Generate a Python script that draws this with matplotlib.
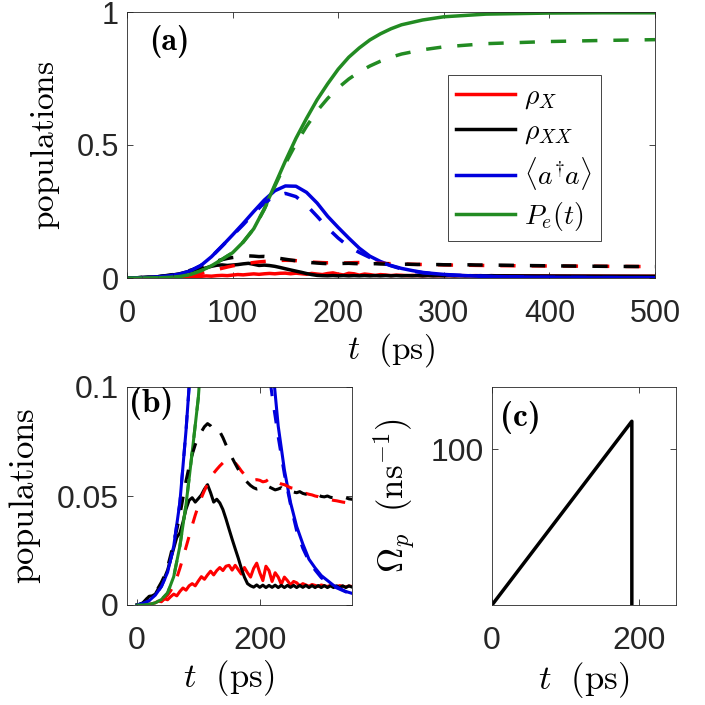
import os
import numpy as np
import matplotlib
matplotlib.use('Agg')
import matplotlib.pyplot as plt
from matplotlib.font_manager import FontProperties

plt.rcParams['mathtext.fontset'] = 'cm'
plt.rcParams['font.family'] = ['Liberation Sans', 'DejaVu Sans']
plt.rcParams['axes.unicode_minus'] = False

# ---------------- data ----------------
# fine time grid (ps) for the populations of the exciton / biexciton
t_fine = [0, 5, 10, 15, 20, 25, 30, 35, 40, 45, 50, 55, 60, 65, 70, 75, 80, 85, 90, 95,
          100, 105, 110, 115, 120, 125, 130, 135, 140, 145, 150, 155, 160, 165, 170, 175,
          180, 185, 190, 195, 200, 205, 210, 215, 220, 225, 230, 235, 240, 245, 250, 255,
          260, 265, 270, 275, 280, 285, 290, 295, 300, 305, 310, 315, 320, 325, 330, 335,
          340, 345, 350, 375, 400, 425, 450, 475, 500]

rhoX_solid = [0, 0, 0, 0, 0.0003, 0.0006, 0.001, 0.0018, 0.0015, 0.0028, 0.0024, 0.0038,
              0.005, 0.0042, 0.0062, 0.0078, 0.0068, 0.0088, 0.0098, 0.0088, 0.011, 0.013,
              0.0118, 0.0138, 0.0155, 0.0138, 0.0158, 0.0172, 0.0158, 0.0178, 0.0182, 0.016,
              0.0182, 0.0162, 0.0142, 0.0172, 0.0148, 0.0128, 0.0168, 0.0192, 0.0148, 0.0112,
              0.0178, 0.0158, 0.0108, 0.0148, 0.0128, 0.0095, 0.0128, 0.0112, 0.0092, 0.0108,
              0.0102, 0.0088, 0.0098, 0.0092, 0.0086, 0.0094, 0.009, 0.0085, 0.0092, 0.0088,
              0.0085, 0.009, 0.0087, 0.0084, 0.0089, 0.0086, 0.0083, 0.0087, 0.0085,
              0.008, 0.0075, 0.0072, 0.007, 0.0068, 0.0066]

rhoXX_solid = [0, 0.0003, 0.001, 0.0025, 0.004, 0.0042, 0.005, 0.0075, 0.0098, 0.0125, 0.016,
               0.021, 0.026, 0.031, 0.033, 0.038, 0.044, 0.048, 0.0492, 0.0472, 0.0488, 0.0505,
               0.0532, 0.0552, 0.0515, 0.0472, 0.0485, 0.0468, 0.0438, 0.0395, 0.0348, 0.0302,
               0.0258, 0.0215, 0.0168, 0.0128, 0.0098, 0.0088, 0.0082, 0.0092, 0.0081, 0.0091,
               0.008, 0.009, 0.0081, 0.0091, 0.008, 0.009, 0.008, 0.009, 0.0081, 0.009, 0.008,
               0.009, 0.0081, 0.009, 0.008, 0.0089, 0.008, 0.0089, 0.008, 0.0089, 0.008, 0.0088,
               0.008, 0.0088, 0.008, 0.0088, 0.008, 0.0088, 0.0082,
               0.0078, 0.0074, 0.0071, 0.0068, 0.0066, 0.0064]

rhoX_dashed = [0, 0, 0, 0, 0.0002, 0.0004, 0.0007, 0.0012, 0.002, 0.003, 0.0045, 0.0065, 0.009,
               0.0125, 0.0168, 0.0215, 0.0265, 0.0315, 0.0365, 0.0412, 0.0455, 0.0492, 0.0525,
               0.0555, 0.0582, 0.0605, 0.0622, 0.0638, 0.0652, 0.0662, 0.0665, 0.0662, 0.0652,
               0.0635, 0.0615, 0.0598, 0.0588, 0.0578, 0.0572, 0.0575, 0.0572, 0.0565, 0.0568,
               0.0578, 0.0582, 0.0575, 0.0562, 0.0555, 0.0552, 0.0545, 0.0538, 0.0535, 0.053,
               0.0522, 0.0518, 0.0512, 0.0508, 0.0505, 0.05, 0.0497, 0.0492, 0.0488, 0.0485,
               0.0483, 0.048, 0.0478, 0.0475, 0.0472, 0.047, 0.0468, 0.0466,
               0.0458, 0.0452, 0.0446, 0.044, 0.0434, 0.0428]

rhoXX_dashed = [0, 0.0003, 0.001, 0.0025, 0.004, 0.0045, 0.0055, 0.008, 0.0105, 0.0135, 0.0175,
                0.023, 0.029, 0.0345, 0.041, 0.049, 0.057, 0.0635, 0.069, 0.0735, 0.077, 0.0795,
                0.0818, 0.0832, 0.0822, 0.0805, 0.0812, 0.0795, 0.0768, 0.0735, 0.0705, 0.0675,
                0.0648, 0.0622, 0.0598, 0.0578, 0.0562, 0.0548, 0.0538, 0.0532, 0.0535, 0.0548,
                0.0552, 0.0542, 0.0535, 0.0528, 0.0532, 0.0538, 0.0528, 0.0522, 0.0528, 0.0518,
                0.0515, 0.052, 0.0512, 0.0508, 0.0512, 0.0505, 0.0502, 0.0505, 0.0498, 0.0496,
                0.05, 0.0494, 0.0492, 0.0496, 0.049, 0.0488, 0.0492, 0.0487, 0.0485,
                0.047, 0.0458, 0.0448, 0.044, 0.0433, 0.0428]

# photon number <a^dagger a>
t_n = [0, 10, 20, 30, 40, 50, 60, 70, 80, 90, 100, 110, 120, 130, 140, 150, 160, 170, 180,
       190, 200, 210, 220, 230, 240, 250, 260, 270, 280, 290, 300, 320, 340, 360, 380, 400,
       450, 500]
n_solid = [0, 0.0008, 0.002, 0.0045, 0.0085, 0.015, 0.027, 0.047, 0.08, 0.12, 0.162, 0.205,
           0.25, 0.293, 0.328, 0.346, 0.345, 0.322, 0.282, 0.232, 0.19, 0.15, 0.112, 0.082,
           0.062, 0.047, 0.036, 0.028, 0.021, 0.017, 0.0135, 0.009, 0.0062, 0.0045, 0.0033,
           0.0025, 0.0015, 0.001]
n_dashed = [0, 0.0008, 0.002, 0.0045, 0.0085, 0.015, 0.027, 0.047, 0.08, 0.12, 0.16, 0.2,
            0.243, 0.282, 0.308, 0.318, 0.306, 0.274, 0.232, 0.188, 0.15, 0.118, 0.096, 0.077,
            0.06, 0.046, 0.034, 0.026, 0.02, 0.016, 0.0125, 0.0085, 0.006, 0.0043, 0.0032,
            0.0024, 0.0015, 0.001]

# emission probability P_e(t)
t_pe = [0, 10, 20, 30, 40, 50, 60, 70, 80, 90, 100, 110, 120, 130, 140, 150, 160, 170, 180,
        190, 200, 210, 220, 230, 240, 250, 260, 280, 300, 340, 400, 450, 500]
Pe_solid = [0, 0, 0.0003, 0.001, 0.0025, 0.0055, 0.013, 0.027, 0.046, 0.07, 0.095, 0.135,
            0.185, 0.26, 0.35, 0.44, 0.525, 0.6, 0.67, 0.73, 0.785, 0.83, 0.865, 0.895, 0.918,
            0.937, 0.952, 0.97, 0.982, 0.992, 0.996, 0.997, 0.997]
Pe_dashed = [0, 0, 0.0003, 0.001, 0.0025, 0.0055, 0.013, 0.027, 0.046, 0.07, 0.095, 0.135,
             0.185, 0.258, 0.345, 0.43, 0.505, 0.57, 0.628, 0.675, 0.715, 0.748, 0.775, 0.797,
             0.815, 0.83, 0.842, 0.858, 0.869, 0.881, 0.889, 0.893, 0.896]

# pump Rabi frequency (ns^-1)
t_pump = [0, 190, 190]
Omega_p = [0, 118, 0]

legend_labels = [r'$\rho_X$', r'$\rho_{XX}$', r'$\langle a^{\!\dagger}\!a\rangle$', r'$P_e(t)$']
panel_labels = ['(a)', '(b)', '(c)']
xlabel_text = r'$t\ \ (\mathrm{ps})$'

# ---------------- style ----------------
RED = '#ff0000'
BLACK = '#000000'
BLUE = '#0000dd'
GREEN = '#228b22'
AXC = '#262626'
DASH = (4.4, 4.6)

_cmb = os.path.join(matplotlib.get_data_path(), 'fonts', 'ttf', 'cmb10.ttf')
if os.path.exists(_cmb):
    bold_fp = FontProperties(fname=_cmb)
else:
    bold_fp = FontProperties(family='DejaVu Serif', weight='bold')

fig = plt.figure(figsize=(7.05, 7.05), dpi=100)
W = H = 705.0
axA = fig.add_axes([127 / W, 1 - 278 / H, 528 / W, 266 / H])
axB = fig.add_axes([127 / W, 1 - 605 / H, 225 / W, 218 / H])
axC = fig.add_axes([492 / W, 1 - 605 / H, 184 / W, 218 / H])


def draw_pops(ax, lw):
    hs = []
    hs.append(ax.plot(t_fine, rhoX_solid, color=RED, lw=lw)[0])
    hs.append(ax.plot(t_fine, rhoXX_solid, color=BLACK, lw=lw)[0])
    hs.append(ax.plot(t_n, n_solid, color=BLUE, lw=lw)[0])
    hs.append(ax.plot(t_pe, Pe_solid, color=GREEN, lw=lw)[0])
    ax.plot(t_fine, rhoX_dashed, color=RED, lw=lw, dashes=DASH)
    ax.plot(t_fine, rhoXX_dashed, color=BLACK, lw=lw, dashes=DASH)
    ax.plot(t_n, n_dashed, color=BLUE, lw=lw, dashes=DASH)
    ax.plot(t_pe, Pe_dashed, color=GREEN, lw=lw, dashes=DASH)
    return hs


def style(ax, fs):
    for s in ax.spines.values():
        s.set_color(AXC)
        s.set_linewidth(0.6)
    ax.tick_params(direction='in', length=4, width=0.6, top=True, right=True,
                   colors=AXC, labelsize=fs, labelcolor=AXC)
    ax.tick_params(axis='x', pad=15)
    ax.tick_params(axis='y', pad=6)


def panel_label(ax, x, y, s, fs):
    fp = bold_fp.copy()
    fp.set_size(fs)
    ax.text(x, y, s, transform=ax.transAxes, ha='left', va='top', fontproperties=fp)


# panel (a)
hs = draw_pops(axA, 2.5)
axA.set_xlim(0, 500)
axA.set_ylim(0, 1)
axA.set_xticks([0, 100, 200, 300, 400, 500])
axA.set_yticks([0, 0.5, 1])
axA.set_yticklabels(['0', '0.5', '1'])
style(axA, 22)
axA.set_xlabel(xlabel_text, fontsize=24)
axA.set_ylabel(r'$\mathrm{populations}$', fontsize=24)
axA.xaxis.set_label_coords(0.5, -0.2)
axA.yaxis.set_label_coords(-0.123, 0.5)
panel_label(axA, 0.042, 0.95, panel_labels[0], 23)
leg = axA.legend(hs, legend_labels, loc='upper left', bbox_to_anchor=(0.608, 0.763),
                 fontsize=20, frameon=True, fancybox=False, edgecolor=AXC, framealpha=1,
                 handlelength=2.1, handletextpad=0.35, labelspacing=0.3, borderpad=0.3,
                 borderaxespad=0)
leg.get_frame().set_linewidth(0.6)

# panel (b)
draw_pops(axB, 2.2)
axB.set_xlim(-16, 350)
axB.set_ylim(0, 0.1)
axB.set_xticks([0, 200])
axB.set_yticks([0, 0.05, 0.1])
axB.set_yticklabels(['0', '0.05', '0.1'])
style(axB, 23)
axB.set_xlabel(xlabel_text, fontsize=25)
axB.set_ylabel(r'$\mathrm{populations}$', fontsize=25)
axB.xaxis.set_label_coords(0.45, -0.243)
axB.yaxis.set_label_coords(-0.373, 0.5)
panel_label(axB, 0.008, 1.0, panel_labels[1], 24)

# panel (c)
axC.plot(t_pump, Omega_p, color=BLACK, lw=2.5)
axC.set_xlim(0, 250)
axC.set_ylim(0, 140)
axC.set_xticks([0, 200])
axC.set_yticks([100])
style(axC, 23)
axC.set_xlabel(xlabel_text, fontsize=25)
axC.set_ylabel(r'$\Omega_p\ \ (\mathrm{ns}^{-1})$', fontsize=25)
axC.xaxis.set_label_coords(0.5, -0.252)
axC.yaxis.set_label_coords(-0.408, 0.5)
panel_label(axC, 0.045, 0.935, panel_labels[2], 24)

fig.savefig('out.png', dpi=100)
